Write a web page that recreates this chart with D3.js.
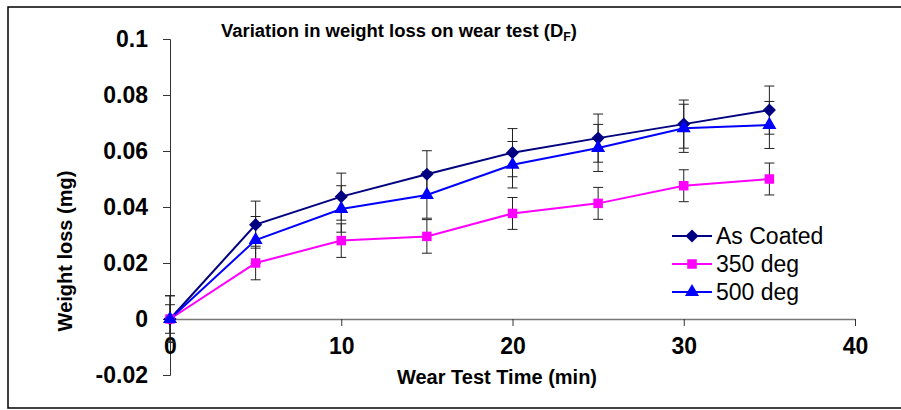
<!DOCTYPE html>
<html>
<head>
<meta charset="utf-8">
<script src="https://cdn.jsdelivr.net/npm/d3@7"></script>
<style>
  body { margin: 0; background: #fff; }
  svg { display: block; font-family: "Liberation Sans", Arial, sans-serif; }
</style>
</head>
<body>
<svg id="chart" width="901" height="410"></svg>
<script>
// wear test data
var times = [0, 5, 10, 15, 20, 25, 30, 35];
var asCoated = [0, 0.0337, 0.0437, 0.0517, 0.0594, 0.0646, 0.0696, 0.0746];
var deg350 = [0, 0.0200, 0.0280, 0.0295, 0.0377, 0.0413, 0.0476, 0.0500];
var deg500 = [0, 0.0282, 0.0393, 0.0443, 0.0551, 0.0611, 0.0681, 0.0693];
var asCoatedErr = [0.0083, 0.0084, 0.0084, 0.0084, 0.0086, 0.0086, 0.0086, 0.0086];
var deg350Err = [0.0051, 0.0060, 0.0060, 0.0060, 0.0057, 0.0057, 0.0057, 0.0057];
var deg500Err = [0.0083, 0.0084, 0.0083, 0.0083, 0.0083, 0.0084, 0.0086, 0.0084];
var seriesNames = ["As Coated", "350 deg", "500 deg"];
var xTicks = [0, 10, 20, 30, 40];
var yTicks = [-0.02, 0, 0.02, 0.04, 0.06, 0.08, 0.1];
var yTickLabels = ["-0.02", "0", "0.02", "0.04", "0.06", "0.08", "0.1"];

var svg = d3.select("#chart");

// outer frame
svg.append("rect").attr("x", 8).attr("y", 7).attr("width", 900).attr("height", 401)
  .attr("fill", "none").attr("stroke", "#000").attr("stroke-width", 1.5);

var x = d3.scaleLinear().domain([0, 40]).range([170, 855]);
var y = d3.scaleLinear().domain([-0.02, 0.1]).range([375, 39]);

// y axis
var yAxis = svg.append("g").attr("transform", "translate(" + x(0) + ",0)")
  .call(d3.axisLeft(y).tickValues(yTicks).tickSize(7).tickPadding(15)
    .tickFormat(function(d, i){ return yTickLabels[i]; }));
yAxis.select(".domain").attr("stroke", "#333");
yAxis.selectAll(".tick line").attr("stroke", "#333");
yAxis.selectAll("text").attr("font-size", 23).attr("font-weight", "bold").attr("fill", "#000");

// x axis (crosses at y = 0)
var xAxis = svg.append("g").attr("transform", "translate(0," + y(0) + ")")
  .call(d3.axisBottom(x).tickValues(xTicks).tickSize(7).tickSizeOuter(0).tickPadding(12));
xAxis.select(".domain").attr("stroke", "#777").attr("stroke-width", 1.5);
xAxis.selectAll(".tick line").attr("stroke", "#333");
xAxis.selectAll("text").attr("font-size", 23).attr("font-weight", "bold").attr("fill", "#000");

// axis titles
svg.append("text").attr("x", 497).attr("y", 384).attr("text-anchor", "middle")
  .attr("font-size", 20).attr("font-weight", "bold").text("Wear Test Time (min)");
svg.append("text").attr("transform", "translate(72,251) rotate(-90)").attr("text-anchor", "middle")
  .attr("font-size", 20).attr("font-weight", "bold").text("Weight loss (mg)");

// chart title
var title = svg.append("text").attr("x", 221).attr("y", 37)
  .attr("font-size", 18).attr("font-weight", "bold")
  .attr("textLength", 356).attr("lengthAdjust", "spacingAndGlyphs");
title.append("tspan").text("Variation in weight loss on wear test (D");
title.append("tspan").attr("font-size", 12).attr("dy", 4).text("F");
title.append("tspan").attr("dy", -4).text(")");

var diamond = d3.symbolDiamond2 || d3.symbolDiamond;
var series = [
  { name: seriesNames[0], vals: asCoated, err: asCoatedErr, color: "#000080", shape: diamond, size: 110 },
  { name: seriesNames[1], vals: deg350, err: deg350Err, color: "#FF00FF", shape: d3.symbolSquare, size: 90 },
  { name: seriesNames[2], vals: deg500, err: deg500Err, color: "#0000FF", shape: d3.symbolTriangle, size: 85 }
];

var line = d3.line().x(function(d){ return x(d[0]); }).y(function(d){ return y(d[1]); });

series.forEach(function(s){
  var pts = times.map(function(t, i){ return [t, s.vals[i], s.err[i]]; });
  svg.append("path").datum(pts).attr("d", line)
    .attr("fill", "none").attr("stroke", s.color).attr("stroke-width", 2);
});

// error bars
series.forEach(function(s){
  var g = svg.append("g").attr("stroke", "#222").attr("stroke-width", 1);
  times.forEach(function(t, i){
    var cx = x(t), top = y(s.vals[i] + s.err[i]), bot = y(s.vals[i] - s.err[i]);
    g.append("line").attr("x1", cx).attr("x2", cx).attr("y1", top).attr("y2", bot);
    g.append("line").attr("x1", cx - 5).attr("x2", cx + 5).attr("y1", top).attr("y2", top);
    g.append("line").attr("x1", cx - 5).attr("x2", cx + 5).attr("y1", bot).attr("y2", bot);
  });
});

// markers
series.forEach(function(s){
  svg.append("g").selectAll("path").data(times).join("path")
    .attr("transform", function(t, i){ return "translate(" + x(t) + "," + y(s.vals[i]) + ")"; })
    .attr("d", d3.symbol().type(s.shape).size(s.size))
    .attr("fill", s.color);
});

// legend
var legend = svg.append("g");
series.forEach(function(s, i){
  var ly = 236 + i * 28;
  legend.append("line").attr("x1", 672).attr("x2", 712).attr("y1", ly).attr("y2", ly)
    .attr("stroke", s.color).attr("stroke-width", 2);
  legend.append("path").attr("transform", "translate(692," + ly + ")")
    .attr("d", d3.symbol().type(s.shape).size(s.size)).attr("fill", s.color);
  legend.append("text").attr("x", 716).attr("y", ly + 8).attr("font-size", 23)
    .attr("fill", "#000").text(s.name);
});
</script>
</body>
</html>
